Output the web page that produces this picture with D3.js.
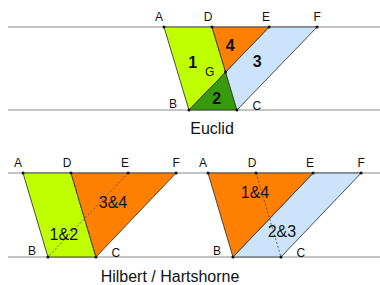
<!DOCTYPE html>
<meta charset="utf-8">
<style>
body{margin:0;background:#fff;}
svg text{font-family:"Liberation Sans",Arial,sans-serif;fill:#111;}
.pt{font-size:12px;}
.num{font-size:16px;font-weight:bold;}
.pair{font-size:16px;}
.title{font-size:16px;}
</style>
<body>
<script src="https://d3js.org/d3.v7.min.js"></script>
<script>
// points in unit space: x in units of AD, y 1 = top line, 0 = bottom line
var ptNames = ["A", "D", "E", "F", "B", "C"];
var ptX = [0, 1, 2.19, 3.19, 0.52, 1.52];
var ptY = [1, 1, 1, 1, 0, 0];
// label offsets (px) around each point
var lblDx = [-5, -4, -3, 0, -16, 20];
var lblDy = [-10, -10, -10, -10, -6, -4];

// panels
var panelNames = ["Euclid", "left", "right"];
var panelX0 = [164, 23, 208];
var panelTop = [27, 173, 173];
var panelBot = [110, 257, 257];

var colors = {lime: "#bfff00", dark: "#379a0a", orange: "#ff8000", blue: "#cce4fb"};

// regions: panel index, vertex names, fill
var regions = [
  [0, ["A", "B", "G", "D"], "lime"],
  [0, ["B", "C", "G"], "dark"],
  [0, ["G", "C", "F", "E"], "blue"],
  [0, ["D", "G", "E"], "orange"],
  [1, ["A", "B", "C", "D"], "lime"],
  [1, ["D", "C", "F"], "orange"],
  [2, ["E", "B", "C", "F"], "blue"],
  [2, ["A", "B", "E"], "orange"]
];
// dashed diagonals
var dashes = [[1, "E", "B"], [2, "D", "C"]];

// region labels: panel, text, unit x, unit y
var tagPanel = [0, 0, 0, 0, 1, 1, 2, 2];
var tagText = ["1", "4", "3", "2", "1&2", "3&4", "1&4", "2&3"];
var tagX = [0.60, 1.38, 1.94, 1.10, 0.85, 1.875, 0.98, 1.54];
var tagY = [0.57, 0.78, 0.58, 0.14, 0.27, 0.65, 0.77, 0.30];

var svg = d3.select("body").append("svg").attr("width", 380).attr("height", 285);

function pos(p){
  var i = ptNames.indexOf(p);
  return [ptX[i], ptY[i]];
}
// intersection of DC and EB -> G
function inter(p1, p2, p3, p4){
  var d = (p1[0]-p2[0])*(p3[1]-p4[1]) - (p1[1]-p2[1])*(p3[0]-p4[0]);
  var t = ((p1[0]-p3[0])*(p3[1]-p4[1]) - (p1[1]-p3[1])*(p3[0]-p4[0])) / d;
  return [p1[0]+t*(p2[0]-p1[0]), p1[1]+t*(p2[1]-p1[1])];
}
var G = inter(pos("D"), pos("C"), pos("E"), pos("B"));
function upos(n){ return n == "G" ? G : pos(n); }

var panels = panelNames.map(function(name, k){
  return {
    x: d3.scaleLinear().domain([0, 1]).range([panelX0[k], panelX0[k] + 48]),
    y: d3.scaleLinear().domain([0, 1]).range([panelBot[k], panelTop[k]])
  };
});

// horizontal lines
[0, 1].forEach(function(k){
  var p = panels[k];
  [0, 1].forEach(function(v){
    svg.append("line").attr("x1", 8).attr("x2", 380)
      .attr("y1", p.y(v)).attr("y2", p.y(v))
      .attr("stroke", "#8a8a8a").attr("stroke-width", 1);
  });
});

var line = d3.line();
regions.forEach(function(r){
  var p = panels[r[0]];
  var pts = r[1].map(function(n){ var u = upos(n); return [p.x(u[0]), p.y(u[1])]; });
  svg.append("path").attr("d", line(pts) + "Z")
    .attr("fill", colors[r[2]]).attr("stroke", "#3a3a3a").attr("stroke-width", 0.9)
    .attr("stroke-linejoin", "round");
});

dashes.forEach(function(dl){
  var p = panels[dl[0]], a = upos(dl[1]), b = upos(dl[2]);
  svg.append("line").attr("x1", p.x(a[0])).attr("y1", p.y(a[1]))
    .attr("x2", p.x(b[0])).attr("y2", p.y(b[1]))
    .attr("stroke", "#444").attr("stroke-width", 0.8).attr("stroke-dasharray", "2,2");
});

// points and point labels
panels.forEach(function(p, k){
  ptNames.forEach(function(n, i){
    svg.append("circle").attr("cx", p.x(ptX[i])).attr("cy", p.y(ptY[i])).attr("r", 1.5).attr("fill", "#111");
    svg.append("text").attr("class", "pt").attr("text-anchor", "middle")
      .attr("x", p.x(ptX[i]) + lblDx[i]).attr("y", p.y(ptY[i]) + lblDy[i] + 4).text(n);
  });
});
// G in Euclid panel
var pe = panels[0];
svg.append("circle").attr("cx", pe.x(G[0])).attr("cy", pe.y(G[1])).attr("r", 1.5).attr("fill", "#111");
svg.append("text").attr("class", "pt").attr("text-anchor", "middle")
  .attr("x", pe.x(G[0]) - 16).attr("y", pe.y(G[1]) + 4).text("G");

tagText.forEach(function(t, i){
  var p = panels[tagPanel[i]];
  svg.append("text").attr("class", tagPanel[i] == 0 ? "num" : "pair")
    .attr("text-anchor", "middle").attr("dominant-baseline", "central")
    .attr("x", p.x(tagX[i])).attr("y", p.y(tagY[i])).text(t);
});

svg.append("text").attr("class", "title").attr("text-anchor", "middle")
  .attr("x", 212).attr("y", 134).text("Euclid");
svg.append("text").attr("class", "title").attr("text-anchor", "middle")
  .attr("x", 170).attr("y", 282).text("Hilbert / Hartshorne");
</script>
</body>
